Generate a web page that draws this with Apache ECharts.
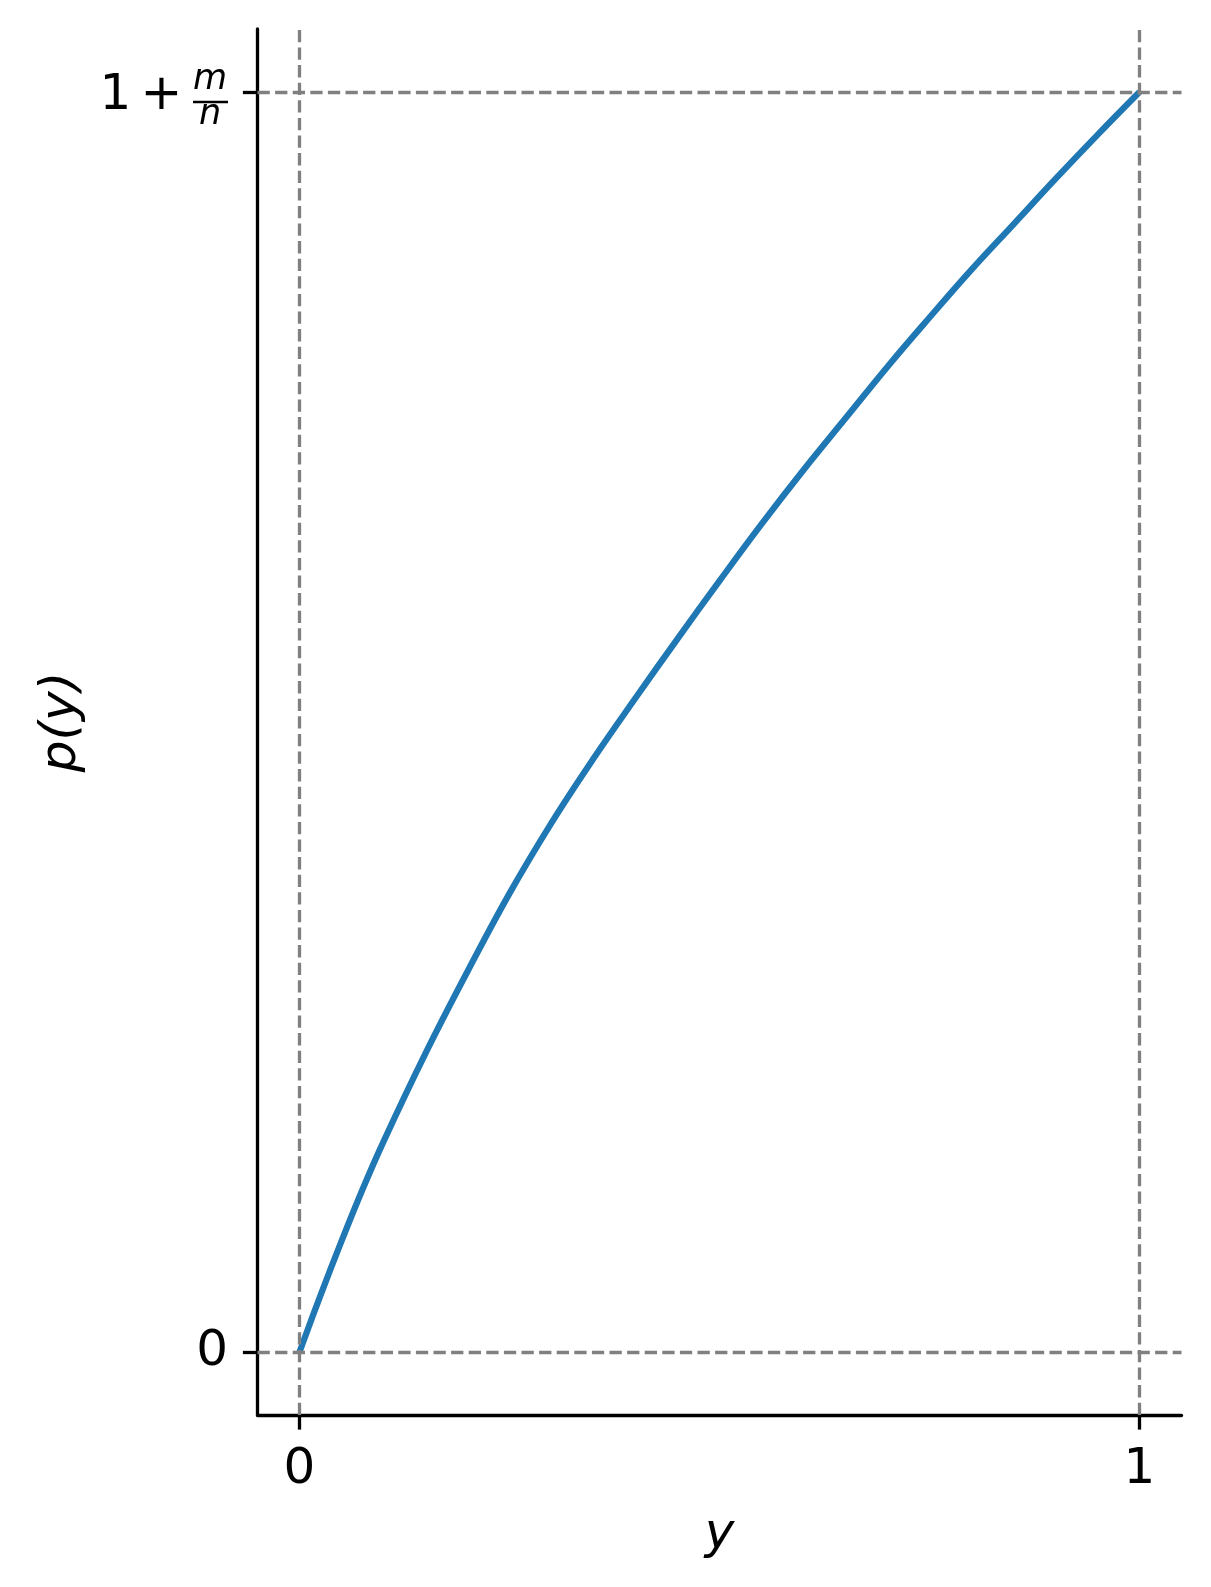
<!DOCTYPE html>
<html>
<head>
<meta charset="utf-8">
<script src="https://cdn.jsdelivr.net/npm/echarts@6/dist/echarts.min.js"></script>
<style>
html, body { margin: 0; padding: 0; background: #fff; }
#main { width: 1211px; height: 1587px; }
</style>
</head>
<body>
<div id="main"></div>
<script>
// curve; p is given as a fraction of 1 + m/n
var yValues = [0, 0.025, 0.05, 0.075, 0.1, 0.15, 0.2, 0.25, 0.3, 0.35, 0.4, 0.45, 0.5,
    0.55, 0.6, 0.65, 0.7, 0.75, 0.8, 0.85, 0.9, 0.95, 1];
var pValues = [0, 0.045, 0.088, 0.129, 0.167, 0.237, 0.302, 0.364, 0.420, 0.471, 0.519, 0.566, 0.612,
    0.657, 0.700, 0.741, 0.782, 0.821, 0.859, 0.895, 0.931, 0.966, 1];
var xTicks = [0, 1];
var yTicks = [0, 1];
var refX = [0, 1];
var refY = [0, 1];

var font = 'DejaVu Sans';
var dash = [12.3, 5.3];

var data = [];
for (var i = 0; i < yValues.length; i++) {
    data.push([yValues[i], pValues[i]]);
}

var marks = [];
refX.forEach(function (v) { marks.push({xAxis: v}); });
refY.forEach(function (v) { marks.push({yAxis: v}); });

var chart = echarts.init(document.getElementById('main'));
var option = {
    backgroundColor: '#fff',
    animation: false,
    grid: {left: 257.5, top: 29, width: 924, height: 1386},
    xAxis: {
        type: 'value',
        min: -0.05,
        max: 1.05,
        name: 'y',
        nameLocation: 'middle',
        nameGap: 95,
        nameTextStyle: {fontFamily: font, fontStyle: 'italic', fontSize: 50, color: '#000'},
        axisLine: {onZero: false, lineStyle: {color: '#000', width: 3.3}},
        axisTick: {show: true, customValues: xTicks, length: 14.6, lineStyle: {color: '#000', width: 3.3}},
        axisLabel: {customValues: xTicks, margin: 30, fontFamily: font, fontSize: 50, color: '#000'},
        splitLine: {show: false}
    },
    yAxis: {
        type: 'value',
        min: -0.05,
        max: 1.05,
        name: 'p(y)',
        nameLocation: 'middle',
        nameGap: 170,
        nameTextStyle: {fontFamily: font, fontStyle: 'italic', fontSize: 50, color: '#000'},
        axisLine: {onZero: false, lineStyle: {color: '#000', width: 3.3}},
        axisTick: {show: true, customValues: yTicks, length: 14.6, lineStyle: {color: '#000', width: 3.3}},
        axisLabel: {
            customValues: yTicks,
            margin: 29.5,
            fontFamily: font,
            fontSize: 50,
            color: '#000',
            formatter: function (v) { return v === 0 ? '0' : ''; }
        },
        splitLine: {show: false}
    },
    series: [{
        type: 'line',
        data: data,
        smooth: 0.4,
        showSymbol: false,
        lineStyle: {color: '#1f77b4', width: 6.25},
        z: 3,
        markLine: {
            silent: true,
            symbol: 'none',
            label: {show: false},
            lineStyle: {color: '#808080', width: 3.3, type: dash},
            data: marks
        }
    }]
};
chart.setOption(option);

// top tick label "1 + m/n" drawn as a small fraction
var topY = chart.convertToPixel({yAxisIndex: 0}, yTicks[1]);
var right = chart.convertToPixel({xAxisIndex: 0}, -0.05) - 29.5;
var big = {fontFamily: font, fontSize: 50, fill: '#000', align: 'center', verticalAlign: 'middle'};
var small = {fontFamily: font, fontSize: 35, fontStyle: 'italic', fill: '#000', align: 'center', verticalAlign: 'middle'};
chart.setOption({
    graphic: [
        {type: 'text', x: right - 112.5, y: topY + 4.5, style: Object.assign({text: '1'}, big)},
        {type: 'text', x: right - 66.5, y: topY + 4.5, style: Object.assign({text: '+'}, big)},
        {type: 'text', x: right - 18, y: topY - 12, style: Object.assign({text: 'm'}, small)},
        {type: 'text', x: right - 18, y: topY + 22.5, style: Object.assign({text: 'n'}, small)},
        {type: 'line', shape: {x1: right - 35, y1: topY + 10, x2: right, y2: topY + 10},
            style: {stroke: '#000', lineWidth: 2.5}}
    ]
});
</script>
</body>
</html>
